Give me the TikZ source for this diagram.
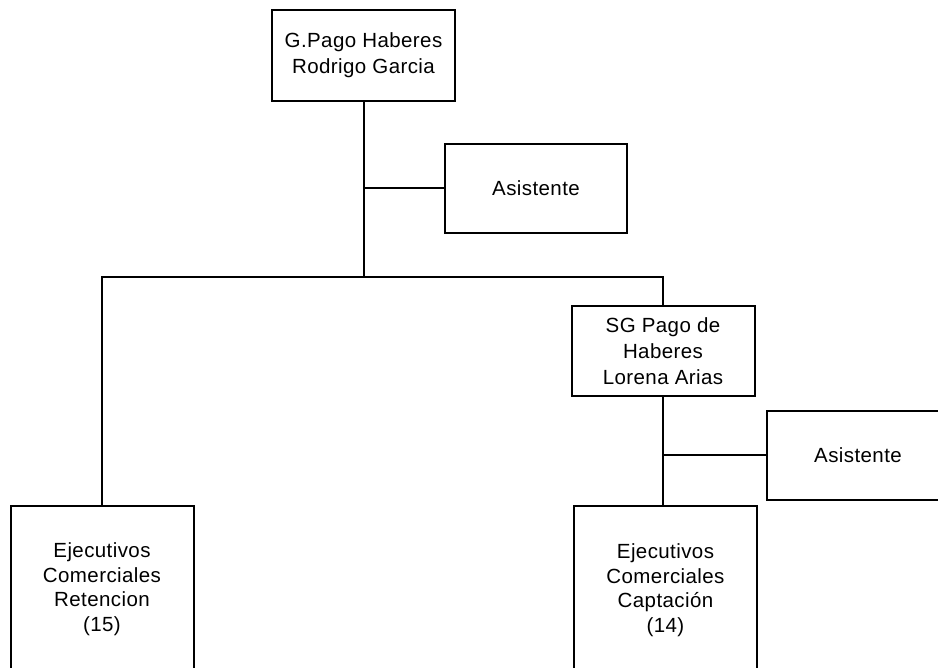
\documentclass[tikz,border=0pt]{standalone}
\usepackage{fontspec}
\setmainfont[LetterSpace=2]{Liberation Sans}
\usetikzlibrary{positioning}

\begin{document}
\begin{tikzpicture}[x=1pt, y=-1pt]
    \tikzstyle{puesto}=[draw, rectangle, line width=2pt, align=center, minimum width=183pt, minimum height=90pt, inner sep=0pt, font=\fontsize{20.5}{26}\selectfont];
    \tikzstyle{equipo}=[draw, rectangle, line width=2pt, minimum width=183pt, minimum height=220pt];
    \tikzstyle{texto}=[align=center, inner sep=0pt, font=\fontsize{20.5}{24.5}\selectfont];
    \tikzstyle{linea}=[line width=2pt];

    \path[use as bounding box, clip] (0,0) rectangle (938,668);
    \fill[white] (0,0) rectangle (938,668);

    \node[puesto, minimum height=91pt] (gerente) at (363.5,55.5) {G.Pago Haberes\\Rodrigo Garcia};
    \node[puesto, minimum width=182pt, minimum height=89pt] (asistenteG) at (536,188.5) {Asistente};
    \node[puesto] (subgerente) at (663,351) {SG Pago de\\Haberes\\Lorena Arias};
    \node[puesto, minimum width=182pt, minimum height=89pt] (asistenteSG) at (858,455.5) {Asistente};
    \node[equipo] (retencion) at (102,616) {};
    \node[texto] (retencionTxt) at (102,589) {Ejecutivos\\Comerciales\\Retencion\\(15)};
    \node[equipo] (captacion) at (665.5,616) {};
    \node[texto] (captacionTxt) at (665.5,590) {Ejecutivos\\Comerciales\\Captación\\(14)};

    \coordinate (cruceG) at (gerente.south |- 0,277);

    \draw[linea] (gerente.south) -- (cruceG);
    \draw[linea] (gerente.south |- asistenteG.west) -- (asistenteG.west);
    \draw[linea] (retencion.north) |- (cruceG) -| (subgerente.north);
    \draw[linea] (subgerente.south) -- (captacion.north -| subgerente.south);
    \draw[linea] (subgerente.south |- asistenteSG.west) -- (asistenteSG.west);
  \end{tikzpicture}
\end{document}
